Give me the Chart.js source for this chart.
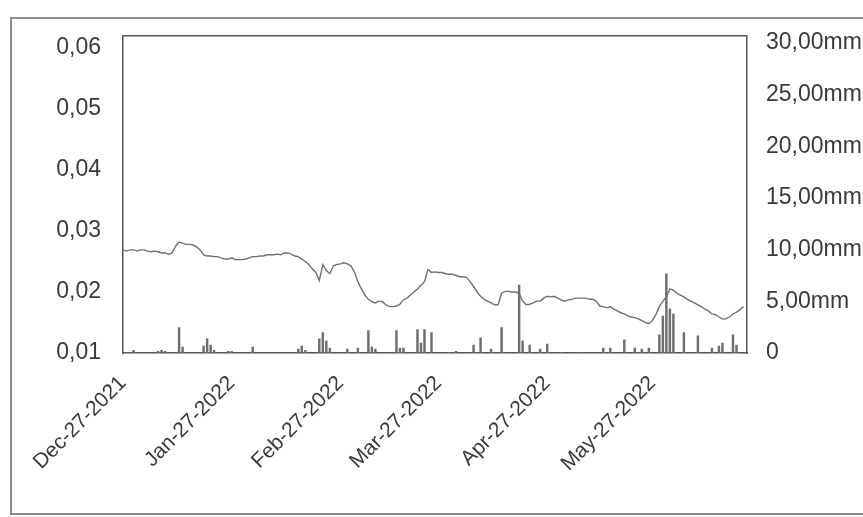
<!DOCTYPE html>
<html lang="en">
<head>
  <meta charset="UTF-8">
  <title>Daily value and rainfall</title>
  <script src="https://cdn.jsdelivr.net/npm/chart.js"></script>
  <style>
    html, body {
      margin: 0;
      padding: 0;
      background: #fff;
      overflow: hidden;
    }
    #wrap {
      position: relative;
      width: 863px;
      height: 517px;
    }
    #frame {
      position: absolute;
      left: 10px;
      top: 17px;
      width: 900px;
      height: 494px;
      border: 2px solid #8c8c8c;
      pointer-events: none;
    }
  </style>
</head>
<body>
  <div id="wrap">
    <canvas id="chart" width="863" height="517"></canvas>
    <div id="frame"></div>
  </div>

  <script>
    // first day of the series, one point per day
    const startDate = [2021, 11, 27];
    const monthNames = ['Jan', 'Feb', 'Mar', 'Apr', 'May', 'Jun', 'Jul', 'Aug', 'Sep', 'Oct', 'Nov', 'Dec'];
    const tickLabels = ['Dec-27-2021', 'Jan-27-2022', 'Feb-27-2022', 'Mar-27-2022', 'Apr-27-2022', 'May-27-2022'];
    const leftTicks = [0.01, 0.02, 0.03, 0.04, 0.05, 0.06];
    const rightTicks = [0, 5, 10, 15, 20, 25, 30];

    // left axis series (line)
    const lineValues = [
      0.0269, 0.0267, 0.0269, 0.0269, 0.0267, 0.0269, 0.0269, 0.0267, 0.0266, 0.0267,
      0.0266, 0.0264, 0.0264, 0.0262, 0.0264, 0.0275, 0.0282, 0.0280, 0.0278, 0.0278,
      0.0277, 0.0274, 0.0269, 0.0261, 0.0259, 0.0259, 0.0258, 0.0258, 0.0256, 0.0254,
      0.0254, 0.0256, 0.0253, 0.0253, 0.0253, 0.0254, 0.0256, 0.0258, 0.0258, 0.0259,
      0.0259, 0.0261, 0.0261, 0.0261, 0.0262, 0.0261, 0.0264, 0.0264, 0.0262, 0.0259,
      0.0258, 0.0254, 0.0250, 0.0245, 0.0238, 0.0232, 0.0219, 0.0245, 0.0235, 0.0230,
      0.0243, 0.0245, 0.0246, 0.0248, 0.0246, 0.0243, 0.0233, 0.0217, 0.0205, 0.0195,
      0.0188, 0.0184, 0.0182, 0.0185, 0.0184, 0.0179, 0.0176, 0.0176, 0.0177, 0.0180,
      0.0187, 0.0190, 0.0195, 0.0200, 0.0205, 0.0211, 0.0217, 0.0237, 0.0232, 0.0233,
      0.0232, 0.0232, 0.0230, 0.0229, 0.0229, 0.0227, 0.0225, 0.0225, 0.0224, 0.0217,
      0.0209, 0.0200, 0.0193, 0.0188, 0.0185, 0.0182, 0.0179, 0.0179, 0.0198, 0.0201,
      0.0201, 0.0200, 0.0200, 0.0198, 0.0185, 0.0179, 0.0180, 0.0182, 0.0185, 0.0185,
      0.0190, 0.0193, 0.0192, 0.0193, 0.0190, 0.0187, 0.0185, 0.0187, 0.0188, 0.0190,
      0.0190, 0.0190, 0.0190, 0.0188, 0.0188, 0.0185, 0.0177, 0.0176, 0.0174, 0.0176,
      0.0172, 0.0169, 0.0166, 0.0164, 0.0161, 0.0159, 0.0158, 0.0156, 0.0153, 0.0150,
      0.0148, 0.0153, 0.0163, 0.0176, 0.0185, 0.0192, 0.0205, 0.0203, 0.0198, 0.0195,
      0.0192, 0.0188, 0.0185, 0.0182, 0.0179, 0.0176, 0.0172, 0.0169, 0.0164, 0.0163,
      0.0159, 0.0156, 0.0156, 0.0159, 0.0164, 0.0167, 0.0171, 0.0176, null
    ];

    // right axis series (daily rainfall, mm)
    const rainMm = [
      0, 0, 0, 0.3, 0, 0, 0, 0, 0, 0,
      0.2, 0.3, 0.2, 0, 0, 0, 2.5, 0.6, 0, 0,
      0, 0, 0, 0.7, 1.4, 0.8, 0.3, 0, 0, 0,
      0.2, 0.2, 0, 0, 0, 0, 0, 0.6, 0, 0,
      0, 0, 0, 0, 0, 0, 0, 0, 0, 0,
      0.4, 0.7, 0.3, 0, 0, 0, 1.4, 2.0, 1.2, 0.5,
      0, 0, 0, 0, 0.4, 0, 0, 0.5, 0, 0,
      2.2, 0.6, 0.4, 0, 0, 0, 0, 0, 2.2, 0.5,
      0.5, 0, 0, 0, 2.3, 1.0, 2.3, 0, 2.0, 0,
      0, 0, 0, 0.1, 0, 0.2, 0, 0, 0, 0,
      0.8, 0, 1.5, 0, 0, 0.4, 0, 0, 2.5, 0,
      0, 0, 0, 6.6, 1.2, 0, 0.8, 0, 0, 0.4,
      0, 0.9, 0, 0, 0, 0.1, 0, 0, 0, 0,
      0.1, 0, 0, 0, 0, 0, 0, 0.5, 0, 0.5,
      0, 0, 0, 1.3, 0, 0, 0.5, 0, 0.4, 0,
      0.5, 0, 0, 1.8, 3.6, 7.7, 4.3, 3.8, 0, 0,
      2.0, 0, 0, 0, 1.7, 0, 0, 0, 0.5, 0,
      0.7, 1.0, 0, 0, 1.8, 0.8, 0, 0, 0
    ];

    // one category per day, labelled like "Dec-27-2021"
    const days = [];
    for (let i = 0; i < rainMm.length; i++) {
      const d = new Date(startDate[0], startDate[1], startDate[2] + i);
      const dd = String(d.getDate()).padStart(2, '0');
      days.push(monthNames[d.getMonth()] + '-' + dd + '-' + d.getFullYear());
    }

    const fontFamily = '"Liberation Sans", Arial, sans-serif';
    const textColor = '#3a3a3a';
    const axisFont = { family: fontFamily, size: 23 };

    // top edge of the plot frame
    const frameTop = {
      id: 'frameTop',
      afterDraw(chart) {
        const a = chart.chartArea;
        const ctx = chart.ctx;
        ctx.save();
        ctx.strokeStyle = '#555';
        ctx.lineWidth = 1.5;
        ctx.beginPath();
        ctx.moveTo(a.left, a.top);
        ctx.lineTo(a.right, a.top);
        ctx.stroke();
        ctx.restore();
      }
    };

    new Chart(document.getElementById('chart'), {
      data: {
        labels: days,
        datasets: [
          {
            type: 'line',
            label: 'Value',
            data: lineValues,
            yAxisID: 'y',
            borderColor: '#707070',
            borderWidth: 1.4,
            pointRadius: 0,
            tension: 0
          },
          {
            type: 'bar',
            label: 'Rainfall',
            data: rainMm,
            yAxisID: 'y1',
            backgroundColor: '#6e6e6e',
            borderWidth: 0,
            barPercentage: 0.7,
            categoryPercentage: 1
          }
        ]
      },
      options: {
        responsive: false,
        animation: false,
        layout: { padding: { top: 33, left: 0, right: 0, bottom: 0 } },
        plugins: {
          legend: { display: false },
          tooltip: { enabled: false }
        },
        scales: {
          x: {
            offset: false,
            grid: { display: false, drawTicks: false },
            border: { display: true, color: '#555', width: 1.5 },
            ticks: {
              autoSkip: false,
              minRotation: 45,
              maxRotation: 45,
              padding: 18,
              color: textColor,
              font: { family: fontFamily, size: 21 },
              callback: function (value) {
                const lbl = this.getLabelForValue(value);
                return tickLabels.includes(lbl) ? lbl : '';
              }
            },
            afterFit: (s) => { s.height = 164; }
          },
          y: {
            position: 'left',
            min: 0.01,
            max: 0.062,
            grid: { display: false, drawTicks: false },
            border: { display: true, color: '#555', width: 1.5 },
            afterBuildTicks: (s) => { s.ticks = leftTicks.map(v => ({ value: v })); },
            ticks: {
              padding: 22,
              color: textColor,
              font: axisFont,
              callback: (v) => v.toFixed(2).replace('.', ',')
            },
            afterFit: (s) => { s.width = 123; }
          },
          y1: {
            position: 'right',
            min: 0,
            max: 30.7,
            grid: { display: false, drawOnChartArea: false, drawTicks: true, tickLength: 5, color: '#555' },
            border: { display: true, color: '#555', width: 1.5 },
            afterBuildTicks: (s) => { s.ticks = rightTicks.map(v => ({ value: v })); },
            ticks: {
              padding: 14,
              color: textColor,
              font: axisFont,
              callback: (v) => (v === 0 ? '0' : v.toFixed(2).replace('.', ',') + 'mm')
            },
            afterFit: (s) => { s.width = 116; }
          }
        }
      },
      plugins: [frameTop]
    });
  </script>
</body>
</html>
